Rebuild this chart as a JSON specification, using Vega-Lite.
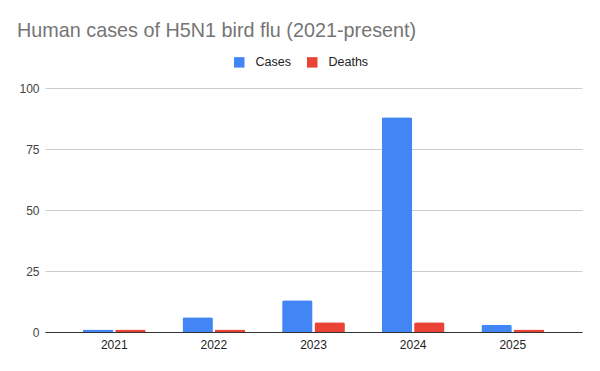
{
  "$schema": "https://vega.github.io/schema/vega-lite/v6.json",
  "width": 537,
  "height": 244,
  "autosize": "none",
  "padding": {"left": 45, "top": 88, "right": 18, "bottom": 39},
  "background": "white",
  "title": {
    "text": "Human cases of H5N1 bird flu (2021-present)",
    "anchor": "start",
    "frame": "group",
    "dx": -28,
    "font": "Liberation Sans",
    "fontSize": 19.8,
    "fontWeight": "normal",
    "color": "#757575",
    "offset": 15
  },
  "data": {
    "values": [
      {"year": "2021", "series": "Cases", "value": 1},
      {"year": "2021", "series": "Deaths", "value": 1},
      {"year": "2022", "series": "Cases", "value": 6},
      {"year": "2022", "series": "Deaths", "value": 1},
      {"year": "2023", "series": "Cases", "value": 13},
      {"year": "2023", "series": "Deaths", "value": 4},
      {"year": "2024", "series": "Cases", "value": 88},
      {"year": "2024", "series": "Deaths", "value": 4},
      {"year": "2025", "series": "Cases", "value": 3},
      {"year": "2025", "series": "Deaths", "value": 1}
    ]
  },
  "mark": {"type": "bar", "cornerRadiusTopLeft": 2, "cornerRadiusTopRight": 2},
  "encoding": {
    "x": {
      "field": "year",
      "type": "nominal",
      "scale": {"paddingInner": 0.37, "paddingOuter": 0.38},
      "axis": {
        "title": null,
        "labelAngle": 0,
        "ticks": false,
        "domainColor": "#333333",
        "domainWidth": 1,
        "labelFont": "Liberation Sans",
        "labelFontSize": 12,
        "labelColor": "#222222",
        "labelPadding": 7,
        "grid": false
      }
    },
    "xOffset": {
      "field": "series",
      "type": "nominal",
      "scale": {"paddingInner": 0.06}
    },
    "y": {
      "field": "value",
      "type": "quantitative",
      "scale": {"domain": [0, 100]},
      "axis": {
        "title": null,
        "values": [0, 25, 50, 75, 100],
        "domain": false,
        "ticks": false,
        "gridColor": "#cccccc",
        "labelFont": "Liberation Sans",
        "labelFontSize": 12,
        "labelColor": "#444444",
        "labelPadding": 6
      }
    },
    "color": {
      "field": "series",
      "type": "nominal",
      "scale": {"domain": ["Cases", "Deaths"], "range": ["#4285F4", "#EA4335"]},
      "legend": {
        "title": null,
        "orient": "none",
        "legendX": 188,
        "legendY": -32,
        "direction": "horizontal",
        "symbolType": "square",
        "symbolSize": 110,
        "symbolStrokeWidth": 0,
        "labelFont": "Liberation Sans",
        "labelFontSize": 12.5,
        "labelColor": "#222222",
        "columnPadding": 15,
        "labelOffset": 10
      }
    }
  },
  "config": {"view": {"stroke": null}}
}
